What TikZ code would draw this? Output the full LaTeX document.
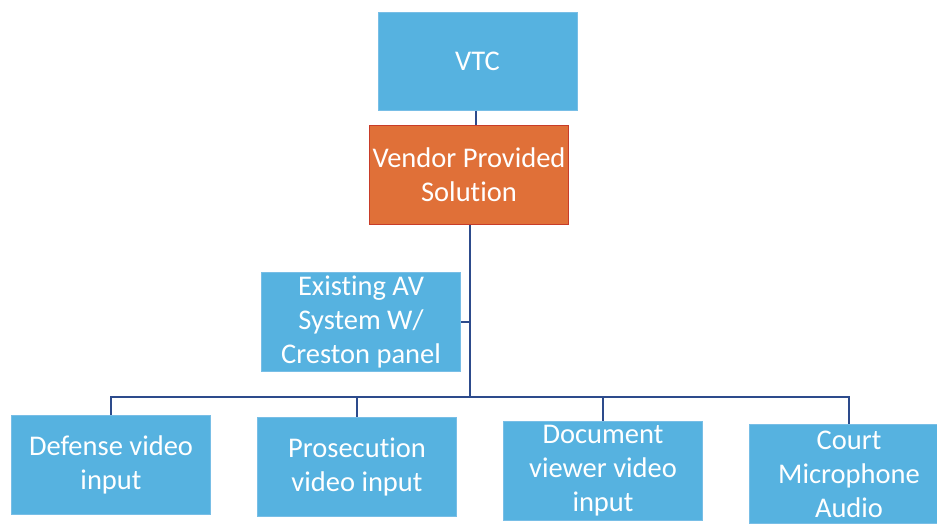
\documentclass[tikz,border=0pt]{standalone}
\usepackage{fontspec}
\setmainfont[Ligatures=NoCommon]{Carlito}
\usetikzlibrary{positioning}
\definecolor{boxblue}{RGB}{86,178,224}
\definecolor{boxblueline}{RGB}{120,190,230}
\definecolor{boxorange}{RGB}{224,112,56}
\definecolor{orangeline}{RGB}{200,60,40}
\definecolor{linkblue}{RGB}{45,75,140}
\tikzset{
  bluebox/.style={draw=boxblueline, line width=1pt, fill=boxblue, text=white,
    minimum width=199pt, minimum height=99pt, inner sep=1pt, align=center,
    font=\fontsize{28.5}{34}\selectfont},
  orangebox/.style={bluebox, draw=orangeline, fill=boxorange},
  link/.style={draw=linkblue, line width=1.3pt}
}
\begin{document}
\begin{tikzpicture}[x=1pt,y=-1pt]
\useasboundingbox (0,0) rectangle (937,523);
\fill[white] (0,0) rectangle (937,523);
\node[bluebox, minimum height=98pt] (vtc) at (477.5,61) {VTC};
\node[orangebox] (vendor) at (469,175) {Vendor Provided\\Solution};
\node[bluebox] (av) at (361,322) {Existing AV\\System W/\\Creston panel};
\node[bluebox] (def) at (111,465) {Defense video\\input};
\node[bluebox] (pros) at (357,467) {Prosecution\\video input};
\node[bluebox] (doc) at (603,471) {Document\\viewer video\\input};
\node[bluebox] (court) at (849,474) {Court\\Microphone\\Audio};
\coordinate (hub) at (470,397);
\draw[link] (vtc.south -| 476,0) -- (vendor.north -| 476,0);
\draw[link] (vendor.south -| hub) -- (hub);
\draw[link] (av.east) -- (av.east -| hub);
\draw[link] (hub) -| (def.north);
\draw[link] (hub) -| (pros.north);
\draw[link] (hub) -| (doc.north);
\draw[link] (hub) -| (court.north);
\end{tikzpicture}
\end{document}
